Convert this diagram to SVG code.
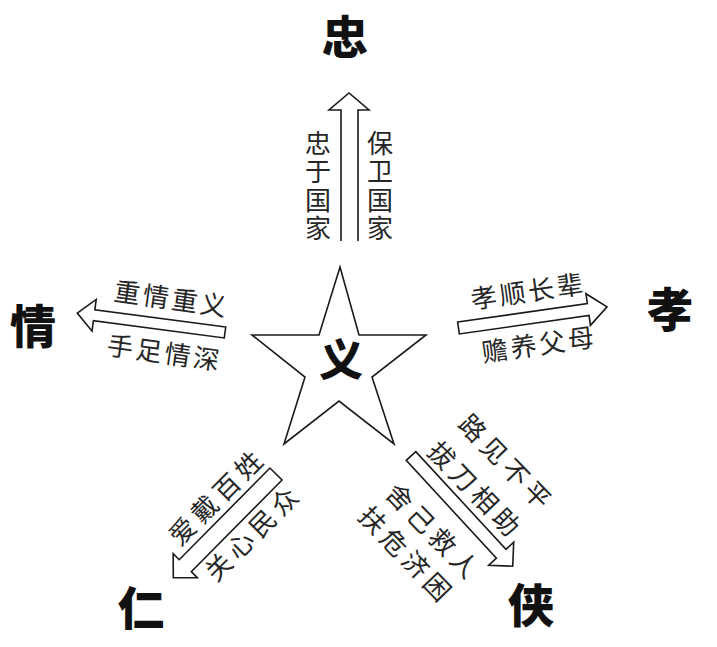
<svg xmlns="http://www.w3.org/2000/svg" width="717" height="647" viewBox="0 0 717 647">
<style>
.bg{fill:#ffffff}
.shape{fill:#ffffff;stroke:#1a1a1a;stroke-width:1.6;stroke-linejoin:miter}
.open{fill:none;stroke:#1a1a1a;stroke-width:1.6}
.lbl{font-family:"Noto Sans CJK SC","Noto Sans CJK TC",sans-serif;font-size:26px;font-weight:400;fill:#262626;text-anchor:middle;dominant-baseline:central;letter-spacing:3px}
.vert{writing-mode:vertical-rl;letter-spacing:2.5px}
.diag{letter-spacing:5px}
.big{font-family:"Noto Sans CJK SC","Noto Sans CJK TC",sans-serif;font-size:46px;font-weight:900;fill:#111;text-anchor:middle;dominant-baseline:central}
</style>
<rect class="bg" x="0" y="0" width="717" height="647"/>

<g id="connectors">
  <path id="arrow-up" class="open" d="M341,241 V110 H329 L349,93 L369,110 H358 V241"/>
  <polygon id="arrow-left" class="shape" transform="translate(225,332.5) rotate(7.5)" points="0,-5.5 -132,-5.5 -132,-16 -149,0 -132,16 -132,5.5 0,5.5"/>
  <polygon id="arrow-right" class="shape" transform="translate(458.5,328) rotate(-8.1)" points="0,-6 131,-6 131,-16 150,0 131,16 131,6 0,6"/>
  <polygon id="arrow-lowleft" class="shape" transform="translate(276,474) rotate(134.7)" points="0,-8.5 129,-8.5 129,-17 146,0 129,17 129,8.5 0,8.5"/>
  <polygon id="arrow-lowright" class="shape" transform="translate(411,456) rotate(47.3)" points="0,-6.5 133,-6.5 133,-17 150,0 133,17 133,6.5 0,6.5"/>
</g>

<g id="labels">
  <text class="lbl vert" x="318" y="187">忠于国家</text>
  <text class="lbl vert" x="380" y="187">保卫国家</text>
  <text class="lbl" transform="translate(172,297) rotate(8)" x="0" y="0">重情重义</text>
  <text class="lbl" transform="translate(165,351) rotate(8)" x="0" y="0">手足情深</text>
  <text class="lbl" transform="translate(528,289.5) rotate(-8)" x="0" y="0">孝顺长辈</text>
  <text class="lbl" transform="translate(539,342.5) rotate(-8)" x="0" y="0">赡养父母</text>
  <text class="lbl diag" transform="translate(216,495) rotate(-45)" x="0" y="0">爱戴百姓</text>
  <text class="lbl diag" transform="translate(252,531) rotate(-45)" x="0" y="0">关心民众</text>
  <text class="lbl diag" transform="translate(508,462) rotate(46)" x="0" y="0">路见不平</text>
  <text class="lbl diag" transform="translate(477,489) rotate(46)" x="0" y="0">拔刀相助</text>
  <text class="lbl diag" transform="translate(435,531) rotate(46)" x="0" y="0">舍己救人</text>
  <text class="lbl diag" transform="translate(408,554) rotate(46)" x="0" y="0">扶危济困</text>
</g>

<g id="node-yi">
  <polygon class="shape" points="340,267 359,335 426,335 372,377 394,444 339,401 284,444 305,377 252,335 319,335"/>
  <text class="big" x="341" y="357" style="font-size:44px">义</text>
</g>
<g id="node-zhong"><text class="big" x="345" y="34">忠</text></g>
<g id="node-xiao"><text class="big" x="670" y="306">孝</text></g>
<g id="node-qing"><text class="big" x="33" y="323">情</text></g>
<g id="node-ren"><text class="big" x="141" y="605">仁</text></g>
<g id="node-xia"><text class="big" x="531" y="602">侠</text></g>
</svg>
